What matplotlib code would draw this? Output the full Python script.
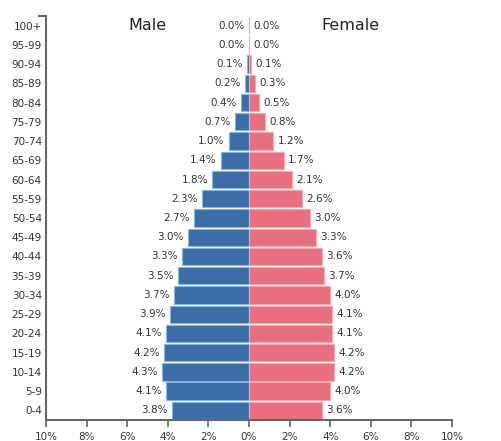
import matplotlib
matplotlib.use('Agg')
import matplotlib.pyplot as plt
import numpy as np

ages = ["0-4", "5-9", "10-14", "15-19", "20-24", "25-29", "30-34", "35-39",
        "40-44", "45-49", "50-54", "55-59", "60-64", "65-69", "70-74",
        "75-79", "80-84", "85-89", "90-94", "95-99", "100+"]
male = [3.8, 4.1, 4.3, 4.2, 4.1, 3.9, 3.7, 3.5, 3.3, 3.0, 2.7, 2.3, 1.8,
        1.4, 1.0, 0.7, 0.4, 0.2, 0.1, 0.0, 0.0]
female = [3.6, 4.0, 4.2, 4.2, 4.1, 4.1, 4.0, 3.7, 3.6, 3.3, 3.0, 2.6, 2.1,
          1.7, 1.2, 0.8, 0.5, 0.3, 0.1, 0.0, 0.0]
xticks = [-10, -8, -6, -4, -2, 0, 2, 4, 6, 8, 10]

W, H = 502, 441
fig = plt.figure(figsize=(W / 100, H / 100), dpi=100, facecolor='w')
ax = fig.add_axes([46 / W, 1 - 420 / H, 406 / W, 404 / H])

y = np.arange(len(ages))
ax.barh(y, [-m for m in male], height=0.9, color='#3b6ea8',
        edgecolor='#86b4e4', linewidth=0.8)
ax.barh(y, female, height=0.9, color='#e96f7f',
        edgecolor='#f8a6b2', linewidth=0.8)

for yi, m, f in zip(y, male, female):
    ax.annotate(f"{m:.1f}%", (-m, yi), xytext=(-3, 0), textcoords='offset points',
                ha='right', va='center', fontsize=7.5, color='#333333')
    ax.annotate(f"{f:.1f}%", (f, yi), xytext=(3, 0), textcoords='offset points',
                ha='left', va='center', fontsize=7.5, color='#333333')

ax.set_xlim(-10, 10)
ax.set_ylim(-0.5, len(ages) - 0.5)
ax.set_xticks(xticks)
ax.set_xticklabels([f"{abs(t)}%" for t in xticks])
ax.set_yticks(y)
ax.set_yticklabels(ages)

ax.spines['top'].set_visible(False)
ax.spines['right'].set_visible(False)
for s in ('left', 'bottom'):
    ax.spines[s].set_color('#666666')
    ax.spines[s].set_linewidth(1.5)
ax.tick_params(axis='y', length=0, pad=3, labelsize=7.5, labelcolor='#333333')
ax.tick_params(axis='x', length=5, width=1.2, color='#666666', pad=4,
               labelsize=7.5, labelcolor='#333333')
# short outer tick at top of the y axis
ax.plot([-7 / 406, 0], [1, 1], transform=ax.transAxes, color='#666666',
        lw=1.5, clip_on=False)

fig.text(147 / W, 1 - 25 / H, "Male", ha='center', va='center',
         fontsize=11.5, color='#222222')
fig.text(350 / W, 1 - 25 / H, "Female", ha='center', va='center',
         fontsize=11.5, color='#222222')

fig.savefig('out.png', dpi=100, facecolor=fig.get_facecolor())
